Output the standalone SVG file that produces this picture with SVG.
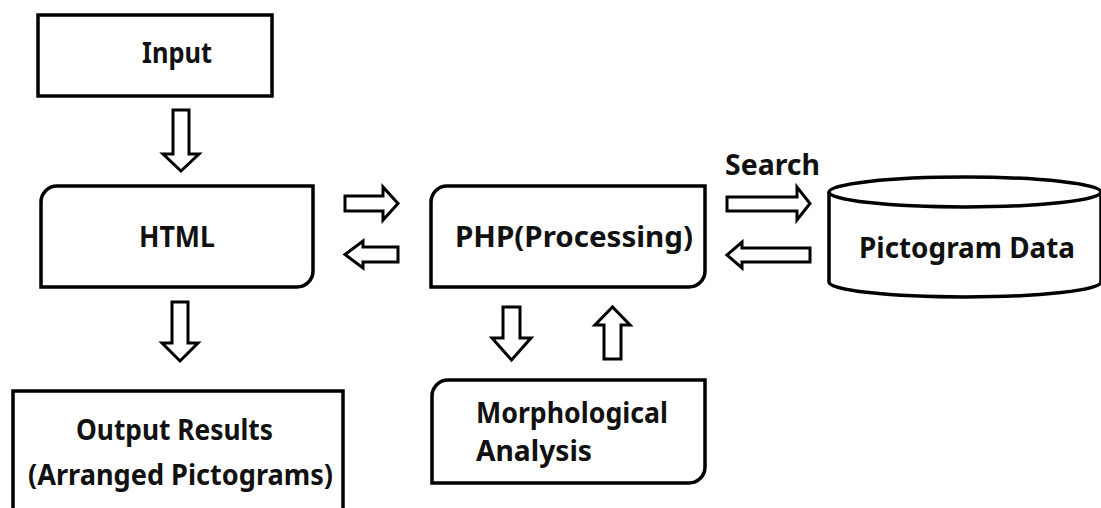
<svg xmlns="http://www.w3.org/2000/svg" width="1101" height="508" viewBox="0 0 1101 508">
  <style>
    .box { fill: #fff; stroke: #000; stroke-width: 3.5; }
    .arrow { fill: #fff; stroke: #000; stroke-width: 3; stroke-linejoin: miter; }
    .label { font-family: "Noto Sans", "Liberation Sans", sans-serif; font-weight: bold; font-size: 28px; fill: #111; }
  </style>
  <rect width="1101" height="508" fill="#fff"/>

  <g id="connectors">
    <!-- Input -> HTML -->
    <polygon class="arrow" points="173,110 189,110 189,154 199,154 181,171 163,154 173,154"/>
    <!-- HTML -> PHP -->
    <polygon class="arrow" points="345,196 383,196 383,187 398,203.5 383,220 383,211 345,211"/>
    <!-- PHP -> HTML -->
    <polygon class="arrow" points="398,247 363,247 363,241 345,254.5 363,268 363,262 398,262"/>
    <!-- HTML -> Output -->
    <polygon class="arrow" points="172,302 188,302 188,343 198,343 180,361 162,343 172,343"/>
    <!-- PHP -> Morphological Analysis -->
    <polygon class="arrow" points="503,307 520,307 520,338 531,338 511.5,360 492,338 503,338"/>
    <!-- Morphological Analysis -> PHP -->
    <polygon class="arrow" points="604,359 621,359 621,325 630,325 612.5,307 595,325 604,325"/>
    <!-- PHP -> Pictogram Data -->
    <polygon class="arrow" points="727,197 797,197 797,187 810,203.5 797,220 797,211 727,211"/>
    <!-- Pictogram Data -> PHP -->
    <polygon class="arrow" points="810,248 742,248 742,242 727,255 742,268 742,262 810,262"/>
    <text class="label" x="725" y="175" textLength="95" lengthAdjust="spacingAndGlyphs">Search</text>
  </g>

  <g id="input">
    <rect class="box" x="38" y="15" width="234" height="81"/>
    <text class="label" x="142" y="63" textLength="70" lengthAdjust="spacingAndGlyphs">Input</text>
  </g>

  <g id="html">
    <path class="box" d="M41,287 V202 A16,16 0 0 1 57,186 H313 V271 A16,16 0 0 1 297,287 Z"/>
    <text class="label" x="139" y="247" textLength="76" lengthAdjust="spacingAndGlyphs">HTML</text>
  </g>

  <g id="php">
    <path class="box" d="M431,287 V202 A16,16 0 0 1 447,186 H705 V271 A16,16 0 0 1 689,287 Z"/>
    <text class="label" x="455" y="247" textLength="238" lengthAdjust="spacingAndGlyphs">PHP(Processing)</text>
  </g>

  <g id="morphological-analysis">
    <path class="box" d="M432,483 V396 A16,16 0 0 1 448,380 H705 V467 A16,16 0 0 1 689,483 Z"/>
    <text class="label" x="476" y="423" textLength="192" lengthAdjust="spacingAndGlyphs">Morphological</text>
    <text class="label" x="476" y="461" textLength="116" lengthAdjust="spacingAndGlyphs">Analysis</text>
  </g>

  <g id="pictogram-data">
    <path class="box" d="M829,192 V282 A136,15 0 0 0 1101,282 V192"/>
    <ellipse class="box" cx="965" cy="192" rx="136" ry="15"/>
    <text class="label" x="859" y="258" textLength="216" lengthAdjust="spacingAndGlyphs">Pictogram Data</text>
  </g>

  <g id="output">
    <rect class="box" x="13" y="391" width="330" height="130"/>
    <text class="label" x="76" y="440" textLength="197" lengthAdjust="spacingAndGlyphs">Output Results</text>
    <text class="label" x="28" y="485" textLength="305" lengthAdjust="spacingAndGlyphs">(Arranged Pictograms)</text>
  </g>
</svg>
